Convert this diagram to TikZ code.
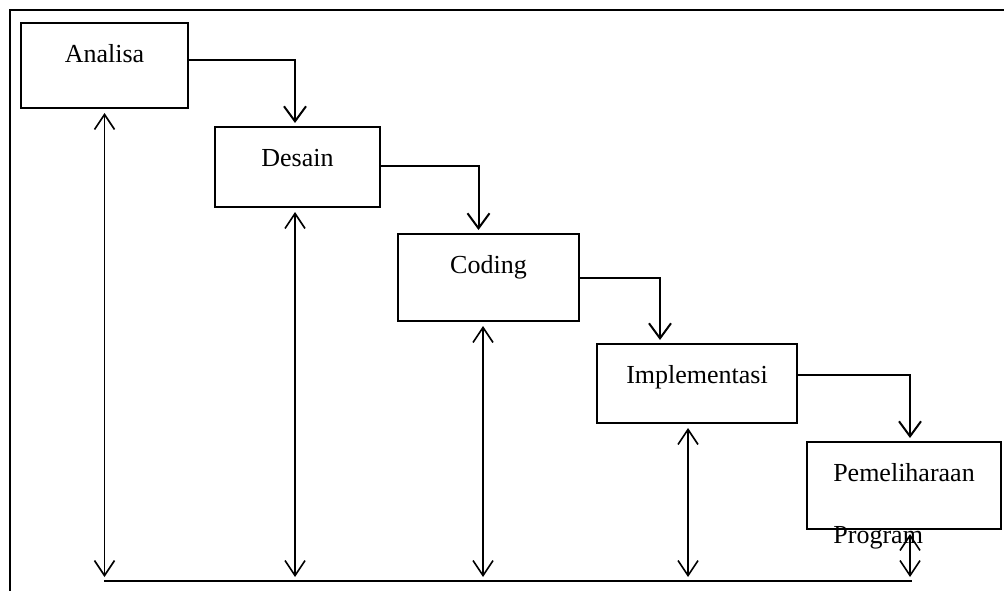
\documentclass[tikz,border=0pt]{standalone}
\usepackage{fontspec}
\setmainfont{Liberation Serif}
\usetikzlibrary{positioning,arrows.meta}

\begin{document}
\begin{tikzpicture}[x=1pt,y=1pt,font=\fontsize{26}{31}\selectfont]
    \tikzstyle{blk}=[draw,line width=2pt,inner sep=0pt,outer sep=0pt,text height=39.5pt,align=center]
    \tikzstyle{flow}=[-{Straight Barb[length=15pt,width=22pt]},line width=2pt,shorten >=4pt]
    \tikzstyle{back}=[{Straight Barb[length=15pt,width=20pt]}-{Straight Barb[length=15pt,width=20pt]},line width=1.6pt,shorten <=5pt,shorten >=4pt]
    \useasboundingbox (0,0) rectangle (1004,-591);
    % frame
    \draw[line width=2.2pt] (1010,-10) -- (10,-10) -- (10,-600);

    \node[blk,anchor=north west,minimum width=167pt,text depth=45.5pt] (ana) at (21,-23) {Analisa};
    \node[blk,below right=19pt and 27pt of ana,minimum width=165pt,text depth=40.5pt] (des) {Desain};
    \node[blk,below right=27pt and 18pt of des,minimum width=181pt,text depth=47.5pt] (cod) {Coding};
    \node[blk,below right=23pt and 18pt of cod,minimum width=200pt,text depth=39.5pt] (imp) {Implementasi};
    \node[blk,below right=19pt and 10pt of imp,minimum width=194pt,text depth=47.5pt] (pem) {Pemeliharaan};
    \node[anchor=base west,inner sep=0pt] (prog) at ([yshift=-62pt]pem.text) {Program};

    \draw[flow] ([yshift=5.5pt]ana.east) -| ([xshift=-2.5pt]des.north);
    \draw[flow] ([yshift=1pt]des.east) -| ([xshift=-10pt]cod.north);
    \draw[flow] (cod.east) -| ([xshift=-37pt]imp.north);
    \draw[flow] ([yshift=8.5pt]imp.east) -| ([xshift=6pt]pem.north);

    % return path along the bottom
    \coordinate (bl) at (104,-581);
    \coordinate (br) at (912,-581);
    \draw[line width=2pt] (bl) -- (br);
    \draw[back] (ana.south) -- (ana.south |- bl);
    \draw[back] ([xshift=-2.5pt]des.south) -- ([xshift=-2.5pt]des.south |- bl);
    \draw[back] ([xshift=-5.5pt]cod.south) -- ([xshift=-5.5pt]cod.south |- bl);
    \draw[back] ([xshift=-9pt]imp.south) -- ([xshift=-9pt]imp.south |- bl);
    \draw[back] ([xshift=6pt]pem.south) -- ([xshift=6pt]pem.south |- bl);
\end{tikzpicture}
\end{document}
